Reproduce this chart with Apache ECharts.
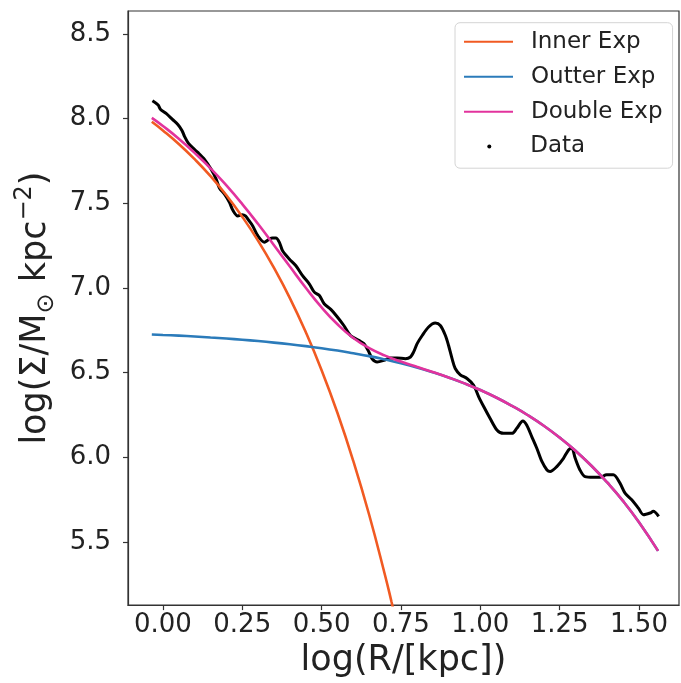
<!DOCTYPE html>
<html>
<head>
<meta charset="utf-8">
<script src="https://cdn.jsdelivr.net/npm/echarts@6/dist/echarts.min.js"></script>
<style>
html,body{margin:0;padding:0;background:#fff;}
#chart{width:681px;height:683px;}
</style>
</head>
<body>
<div id="chart"></div>
<script>
// ---- data ----
const xTicks = [0, 0.25, 0.5, 0.75, 1.0, 1.25, 1.5];
const yTicks = [5.5, 6.0, 6.5, 7.0, 7.5, 8.0, 8.5];

const innerX = [-0.035, 0.00, 0.05, 0.10, 0.15, 0.20, 0.25, 0.30, 0.35, 0.40, 0.45, 0.50, 0.55, 0.60, 0.65, 0.70, 0.72, 0.74];
const innerY = [7.981, 7.930, 7.850, 7.760, 7.660, 7.547, 7.420, 7.278, 7.118, 6.940, 6.739, 6.514, 6.261, 5.977, 5.659, 5.302, 5.148, 4.986];

const fitX   = [-0.035, 0.00, 0.05, 0.10, 0.15, 0.20, 0.25, 0.30, 0.35, 0.40, 0.45, 0.50, 0.55, 0.60, 0.65, 0.70, 0.75, 0.80, 0.85, 0.90, 0.95, 1.00, 1.05, 1.10, 1.15, 1.20, 1.25, 1.30, 1.35, 1.40, 1.45, 1.50, 1.56];
const outerY = [6.725, 6.722, 6.718, 6.713, 6.707, 6.701, 6.694, 6.686, 6.677, 6.667, 6.656, 6.644, 6.630, 6.614, 6.597, 6.577, 6.555, 6.530, 6.502, 6.471, 6.436, 6.397, 6.353, 6.303, 6.248, 6.186, 6.116, 6.038, 5.950, 5.851, 5.741, 5.616, 5.447];
const doubleY = [8.004, 7.956, 7.881, 7.797, 7.706, 7.605, 7.495, 7.377, 7.252, 7.126, 7.001, 6.885, 6.785, 6.704, 6.644, 6.600, 6.565, 6.534, 6.503, 6.471, 6.436, 6.397, 6.353, 6.303, 6.248, 6.186, 6.116, 6.038, 5.950, 5.851, 5.741, 5.616, 5.447];

const dataX = [-0.033, -0.015, -0.008, 0.010, 0.030, 0.047, 0.060, 0.068, 0.080, 0.095, 0.110, 0.131, 0.152, 0.168, 0.178, 0.194, 0.210, 0.220, 0.236, 0.250, 0.260, 0.270, 0.283, 0.299, 0.320, 0.333, 0.345, 0.356, 0.367, 0.377, 0.398, 0.419, 0.440, 0.461, 0.477, 0.493, 0.508, 0.529, 0.549, 0.570, 0.591, 0.617, 0.633, 0.649, 0.659, 0.675, 0.696, 0.717, 0.738, 0.764, 0.780, 0.790, 0.801, 0.817, 0.837, 0.858, 0.874, 0.890, 0.900, 0.911, 0.921, 0.937, 0.958, 0.979, 0.995, 1.011, 1.031, 1.053, 1.073, 1.100, 1.115, 1.134, 1.146, 1.162, 1.178, 1.194, 1.210, 1.220, 1.241, 1.262, 1.278, 1.288, 1.299, 1.314, 1.330, 1.356, 1.377, 1.398, 1.419, 1.440, 1.456, 1.477, 1.498, 1.514, 1.535, 1.545, 1.562];
const dataY = [8.105, 8.080, 8.055, 8.030, 7.995, 7.965, 7.930, 7.895, 7.855, 7.825, 7.800, 7.759, 7.700, 7.641, 7.590, 7.553, 7.504, 7.460, 7.425, 7.432, 7.425, 7.400, 7.366, 7.308, 7.270, 7.285, 7.295, 7.295, 7.269, 7.219, 7.171, 7.131, 7.072, 7.024, 6.975, 6.955, 6.906, 6.873, 6.830, 6.778, 6.719, 6.690, 6.671, 6.622, 6.582, 6.563, 6.572, 6.586, 6.586, 6.582, 6.592, 6.622, 6.671, 6.719, 6.769, 6.792, 6.778, 6.719, 6.660, 6.582, 6.524, 6.487, 6.465, 6.425, 6.357, 6.298, 6.229, 6.160, 6.141, 6.141, 6.171, 6.214, 6.190, 6.122, 6.053, 5.975, 5.925, 5.916, 5.945, 5.994, 6.043, 6.053, 5.994, 5.925, 5.886, 5.882, 5.882, 5.896, 5.896, 5.847, 5.788, 5.749, 5.700, 5.661, 5.671, 5.681, 5.651];

// ---- build ----
const zip = (xs, ys) => xs.map((x, i) => [x, ys[i]]);
const FONT = 'DejaVu Sans';
const TXT = '#222';

const chart = echarts.init(document.getElementById('chart'), null, {renderer: 'canvas'});
chart.setOption({
  animation: false,
  backgroundColor: '#fff',
  grid: {left: 128, right: 2, top: 11, bottom: 76, show: true, borderColor: '#333', borderWidth: 1.2, backgroundColor: 'transparent'},
  xAxis: {
    type: 'value', min: -0.110, max: 1.626,
    axisLine: {show: true, onZero: false, lineStyle: {color: '#333', width: 1.2}},
    axisTick: {show: true, inside: false, length: 5, customValues: xTicks, lineStyle: {color: '#333', width: 1.2}},
    axisLabel: {customValues: xTicks, formatter: v => v.toFixed(2), fontFamily: FONT, fontSize: 26, color: TXT, margin: 7},
    splitLine: {show: false},
    name: 'log(R/[kpc])', nameLocation: 'middle', nameGap: 34,
    nameTextStyle: {fontFamily: FONT, fontSize: 35, color: TXT}
  },
  yAxis: {
    type: 'value', min: 5.127, max: 8.635,
    axisLine: {show: true, onZero: false, lineStyle: {color: '#333', width: 1.2}},
    axisTick: {show: true, inside: false, length: 5, customValues: yTicks, lineStyle: {color: '#333', width: 1.2}},
    axisLabel: {customValues: yTicks, formatter: v => v.toFixed(1), fontFamily: FONT, fontSize: 26, color: TXT, margin: 17},
    splitLine: {show: false},
    name: '{a|log(Σ/M}{sub|⊙}{a| kpc}{sup|−2}{a|)}', nameLocation: 'middle', nameRotate: 90, nameGap: 69,
    nameTextStyle: {
      fontFamily: FONT, fontSize: 35, color: TXT, lineHeight: 46,
      rich: {
        a: {fontFamily: FONT, fontSize: 35, color: TXT, lineHeight: 46, verticalAlign: 'middle'},
        sub: {fontFamily: FONT, fontSize: 24, color: TXT, lineHeight: 24, verticalAlign: 'bottom'},
        sup: {fontFamily: FONT, fontSize: 24, color: TXT, lineHeight: 24, verticalAlign: 'top'}
      }
    }
  },
  legend: [{
    data: ['Inner Exp', 'Outter Exp', 'Double Exp'],
    orient: 'vertical', left: 455, top: 22.7,
    padding: [7.5, 10, 45, 8],
    itemWidth: 49, itemHeight: 14, itemGap: 12,
    selectedMode: false,
    itemStyle: {opacity: 0, borderWidth: 0},
    backgroundColor: '#fff', borderColor: '#d4d4d4', borderWidth: 1, borderRadius: 5,
    formatter: n => '{p|}' + n,
    textStyle: {fontFamily: FONT, fontSize: 23, color: TXT, rich: {p: {width: 13}}}
  }, {
    data: [{name: 'Data', icon: 'circle'}],
    orient: 'vertical', left: 487.3, top: 135,
    padding: 0,
    itemWidth: 4, itemHeight: 4,
    selectedMode: false,
    formatter: n => '{p|}' + n,
    textStyle: {fontFamily: FONT, fontSize: 23, color: TXT, rich: {p: {width: 34}}}
  }],
  series: [
    {name: 'Data', type: 'line', data: zip(dataX, dataY), showSymbol: false, smooth: 0.3, color: '#000',
     lineStyle: {color: '#000', width: 3}, z: 2, clip: true},
    {name: 'Inner Exp', type: 'line', data: zip(innerX, innerY), showSymbol: false, smooth: true, color: '#f15a22',
     lineStyle: {color: '#f15a22', width: 2.6}, z: 3, clip: true},
    {name: 'Outter Exp', type: 'line', data: zip(fitX, outerY), showSymbol: false, smooth: true, color: '#2b7bba',
     lineStyle: {color: '#2b7bba', width: 2.6}, z: 4, clip: true},
    {name: 'Double Exp', type: 'line', data: zip(fitX, doubleY), showSymbol: false, smooth: true, color: '#e2339d',
     lineStyle: {color: '#e2339d', width: 2.6}, z: 5, clip: true}
  ]
});
</script>
</body>
</html>
